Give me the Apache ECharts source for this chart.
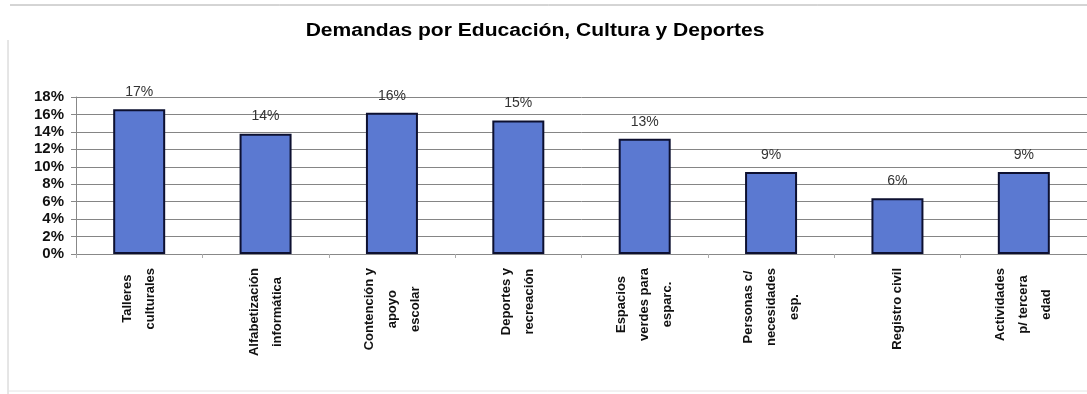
<!DOCTYPE html>
<html>
<head>
<meta charset="utf-8">
<script src="https://cdn.jsdelivr.net/npm/echarts@6/dist/echarts.min.js"></script>
<style>
  html, body { margin: 0; padding: 0; background: #fff; }
  #app { width: 1087px; height: 394px; }
</style>
</head>
<body>
<div id="app"></div>
<script>
const app = document.getElementById("app");
const myChart = echarts.init(app);

const titleText = "Demandas por Educación, Cultura y Deportes";
const categories = [
  "Talleres\nculturales",
  "Alfabetización\ninformática",
  "Contención y\napoyo\nescolar",
  "Deportes y\nrecreación",
  "Espacios\nverdes para\nesparc.",
  "Personas c/\nnecesidades\nesp.",
  "Registro civil",
  "Actividades\np/ tercera\nedad",
];
// porcentajes
const values = [16.6, 13.8, 16.2, 15.3, 13.2, 9.4, 6.4, 9.4];
const yTicks = [0, 2, 4, 6, 8, 10, 12, 14, 16, 18];

const option = {
  animation: false,
  backgroundColor: "#fff",
  grid: {
    left: 76,
    top: 97,
    width: 1018,
    height: 157,
    containLabel: false,
  },
  xAxis: {
    type: "category",
    data: categories,
    axisLine: { lineStyle: { color: "#888", width: 1 } },
    axisTick: { show: true, length: 4, lineStyle: { color: "#aaa" } },
    axisLabel: {
      rotate: 90,
      interval: 0,
      margin: 14,
      fontFamily: "Liberation Sans",
      fontWeight: "bold",
      fontSize: 13,
      lineHeight: 23,
      color: "#111",
      formatter: function (v) {
        return v.split("\n").map((l) => "{c|" + l + "}").join("\n");
      },
      rich: {
        c: {
          align: "center",
          fontFamily: "Liberation Sans",
          fontWeight: "bold",
          fontSize: 13,
          lineHeight: 23,
          color: "#111",
        },
      },
    },
  },
  yAxis: {
    type: "value",
    min: yTicks[0],
    max: yTicks[yTicks.length - 1],
    interval: 2,
    axisLine: { show: true, lineStyle: { color: "#888" } },
    axisTick: { show: true, length: 5, lineStyle: { color: "#888" } },
    splitLine: { lineStyle: { color: "#858585", width: 1 } },
    axisLabel: {
      margin: 12,
      formatter: "{value}%",
      fontFamily: "Liberation Sans",
      fontWeight: "bold",
      fontSize: 15,
      color: "#111",
    },
  },
  graphic: [
    {
      // título, estirado en horizontal como en el original
      type: "text",
      x: 535,
      y: 31,
      scaleX: 1.17,
      style: {
        text: titleText,
        align: "center",
        verticalAlign: "middle",
        fontFamily: "Liberation Sans",
        fontWeight: "bold",
        fontSize: 18,
        fill: "#000",
      },
    },
    {
      type: "line",
      shape: { x1: 10, y1: 5, x2: 1087, y2: 5 },
      style: { stroke: "#aaa", lineWidth: 1 },
    },
    {
      type: "line",
      shape: { x1: 8, y1: 40, x2: 8, y2: 394 },
      style: { stroke: "#ccc", lineWidth: 1 },
    },
    {
      type: "line",
      shape: { x1: 8, y1: 391, x2: 1087, y2: 391 },
      style: { stroke: "#e4e4e4", lineWidth: 1 },
    },
  ],
  series: [
    {
      type: "bar",
      data: values,
      barWidth: 52,
      itemStyle: {
        color: "#5b79d1",
        borderColor: "#0d1030",
        borderWidth: 2,
      },
      label: {
        show: true,
        position: "top",
        distance: 10,
        fontFamily: "Liberation Sans",
        fontSize: 14,
        color: "#333",
        formatter: function (p) {
          return Math.round(p.value) + "%";
        },
      },
    },
  ],
};
myChart.setOption(option);
</script>
</body>
</html>
